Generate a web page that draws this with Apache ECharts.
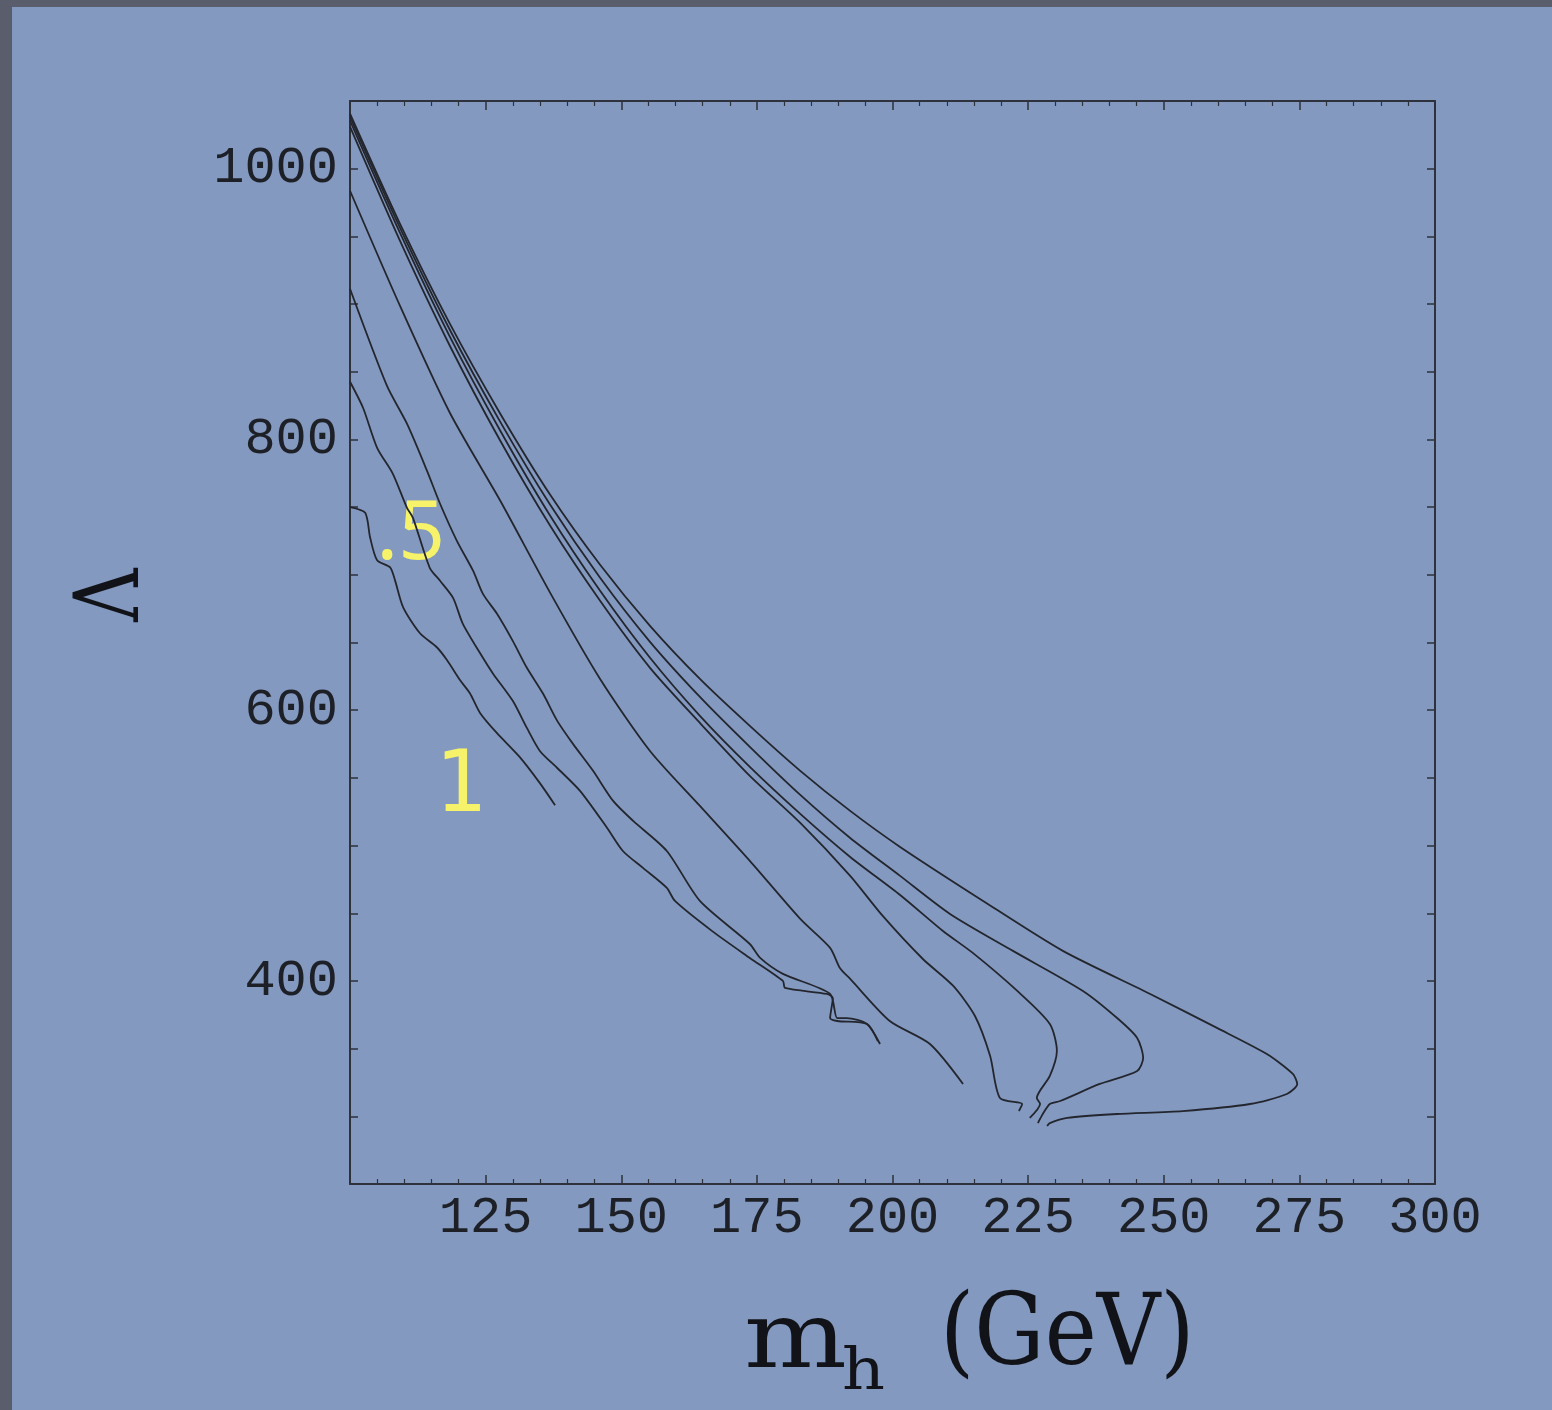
<!DOCTYPE html>
<html><head><meta charset="utf-8">
<script src="https://cdn.jsdelivr.net/npm/echarts/dist/echarts.min.js"></script>
<style>
html,body{margin:0;padding:0;width:1552px;height:1410px;background:#5a5e6c;overflow:hidden}
#main{position:absolute;left:12px;top:7px;width:1540px;height:1403px;}
</style></head><body><div id="main"></div>
<script>
// tick labels
const xTickLabels = [125,150,175,200,225,250,275,300];
const yTickLabels = [400,600,800,1000];
// curves: [m_h (GeV), Lambda]
const curveA = [[100,750],[102.8,745.8],[103.7,727.7],[105,710.7],[107.4,705.5],[108.3,695.9],[109.8,676],[112.9,656.8],[116,646.5],[117.9,636.9],[120.3,622.1],[122.1,612.5],[124,597.8],[127.1,583],[131.3,565.3],[135,546.1],[137.8,529.8]];
const curveB = [[100,842.6],[102.4,823.4],[105,793.8],[107.9,774.6],[110.5,749.5],[111.6,742.1],[114.7,705.2],[116.6,695.6],[119,683],[120.8,663.8],[124.5,638.7],[126.4,626.8],[130,606.9],[132.6,586.9],[135,569.9],[138.2,557.3],[142.4,540.4],[147.4,513],[150.3,496],[154,483.5],[158.4,468.7],[159.9,459.1],[166.7,437],[173.7,417],[179.8,400],[180.2,394.8],[187.9,390.4],[189,387.4],[188.5,372.6],[189.8,370.4],[195.3,368.2],[197.3,355.6]];
const curveC = [[100,911.3],[106.8,839.7],[110.5,811.6],[114.2,776.8],[116.6,752.5],[119.7,725.1],[122.7,702.9],[124.5,685.9],[127.1,671.2],[130,651.2],[132.6,631.3],[135.6,612.1],[138.2,592.1],[141.1,575.1],[144.8,555.2],[148.5,533],[152.2,518.2],[158.4,496],[164.5,459.1],[173.7,427.3],[175.6,417],[179.8,405.2],[188.5,390.4],[189.8,372.6],[191.6,372.6],[195.3,368.2],[197.7,353.4]];
const curveD = [[100,983.7],[109.2,898.8],[118.4,819.7],[127.7,754.7],[136.9,686.7],[146.1,623.1],[155.3,569.9],[164.5,529.3],[173.7,488.7],[183,445.8],[188.5,424.4],[190.3,409.6],[192.2,401.5],[199.5,370.4],[206.9,353.4],[213,323.9]];
const curveE = [[100,1031],[109.2,946.8],[118.4,869.2],[127.7,799],[136.9,736.2],[146.1,680.8],[155.3,631.3],[164.5,590.6],[173.7,551.5],[183,516.7],[192.2,477.6],[198.2,448],[205.6,416.2],[211.2,396.3],[215.2,374.1],[218,344.6],[219.8,313.5],[223.9,309.1],[223.3,303.9]];
const curveF = [[100,1035.5],[109.2,952.7],[118.4,875.9],[127.7,806.4],[136.9,743.6],[146.1,688.2],[155.3,638.7],[164.5,595.8],[173.7,558.1],[183,523.4],[192.2,491.6],[201.4,463.5],[209.3,436.9],[214.8,420.7],[223,392.6],[229,368.2],[230.3,348.3],[229,329.8],[226.6,313.5],[227.2,309.1],[225.3,298.8]];
const curveG = [[100,1038.4],[109.2,956.4],[118.4,881],[127.7,813],[136.9,751.7],[146.1,697.8],[155.3,650.5],[164.5,609.8],[173.7,572.9],[183,537.4],[192.2,505.6],[201.4,477.6],[210.6,449.5],[222.2,422.2],[235.1,392.6],[241.4,372.6],[245.1,357.9],[246.2,343.1],[245.1,333.5],[238.2,323.9],[230.9,311.3],[229,309.1],[227.7,301.7],[226.8,295]];
const curveH = [[100,1040.6],[109.2,959.4],[118.4,885.5],[127.7,819],[136.9,759.1],[146.1,707.4],[155.3,662.3],[164.5,623.1],[173.7,588.4],[183,555.2],[192.2,525.6],[201.4,499],[216.7,459.1],[231.4,422.2],[247.5,390.4],[259.8,365.3],[269,346],[273.8,331.3],[274.6,323.9],[272.7,316.5],[265.9,309.1],[253.5,303.9],[241.4,301.7],[232.2,298.8],[229,295],[228.5,292.8]];
// annotations (data coordinates)
const annoText = ['.5','1'];
const annoX = [111.2, 120.3];
const annoY = [728.8, 542];

const curves = [curveA,curveB,curveC,curveD,curveE,curveF,curveG,curveH];
const chart = echarts.init(document.getElementById('main'));
const labelFont = {fontFamily:'Liberation Mono', fontSize:52, color:'#1d2027'};
const axisCommon = {
  axisLine:{show:true, onZero:false, lineStyle:{color:'#2e323c', width:2}},
  splitLine:{show:false}
};
const xBase = Object.assign({type:'value', min:100, max:300, interval:25,
  axisTick:{inside:true, length:9, lineStyle:{color:'#2e323c', width:1.5}},
  minorTick:{show:true, splitNumber:5, length:5, lineStyle:{color:'#2e323c', width:1.2}}}, axisCommon);
const yBase = Object.assign({type:'value', min:250, max:1050, interval:50,
  axisTick:{inside:true, length:8, lineStyle:{color:'#2e323c', width:1.5}}}, axisCommon);

chart.setOption({
  animation:false,
  backgroundColor:'#8399bf',
  grid:{left:338, top:94, width:1085, height:1083},
  xAxis:[
    Object.assign({}, xBase, {position:'bottom', axisLabel:Object.assign({margin:8, formatter:v=>xTickLabels.includes(v)?String(v):''}, labelFont)}),
    Object.assign({}, xBase, {position:'top', axisLabel:{show:false}})
  ],
  yAxis:[
    Object.assign({}, yBase, {position:'left', axisLabel:Object.assign({margin:12, formatter:v=>yTickLabels.includes(v)?String(v):''}, labelFont)}),
    Object.assign({}, yBase, {position:'right', axisLabel:{show:false}})
  ],
  series: curves.map(c=>({type:'line', data:c, xAxisIndex:0, yAxisIndex:0, showSymbol:false, smooth:0.25,
    lineStyle:{color:'#23262e', width:1.8}}))
});

const ink = '#111318';
const g = [
  {type:'text', x:102.5, y:588, rotation:Math.PI/2, scaleX:0.82, style:{text:'Λ', font:'90px "DejaVu Serif"', fill:ink, align:'center', verticalAlign:'middle'}},
  {type:'text', x:732, y:1336, scaleX:1.18, style:{text:'m', font:'92px "DejaVu Serif"', fill:ink, align:'left', verticalAlign:'middle'}},
  {type:'text', x:830, y:1367, scaleX:1.15, style:{text:'h', font:'58px "DejaVu Serif"', fill:ink, align:'left', verticalAlign:'middle'}},
  {type:'text', x:928, y:1331, scaleX:0.88, style:{text:'(GeV)', font:'100px "DejaVu Serif"', fill:ink, align:'left', verticalAlign:'middle'}}
];
const annoFonts = ['82px "Noto Sans"', '85px "DejaVu Sans Mono"'];
annoText.forEach((t,i)=>{
  const p = chart.convertToPixel({xAxisIndex:0, yAxisIndex:0}, [annoX[i], annoY[i]]);
  g.push({type:'text', x:p[0], y:p[1], style:{text:t, font:annoFonts[i], fill:'#f6f36a', align:'center', verticalAlign:'middle'}});
});
chart.setOption({graphic:g});
</script></body></html>
